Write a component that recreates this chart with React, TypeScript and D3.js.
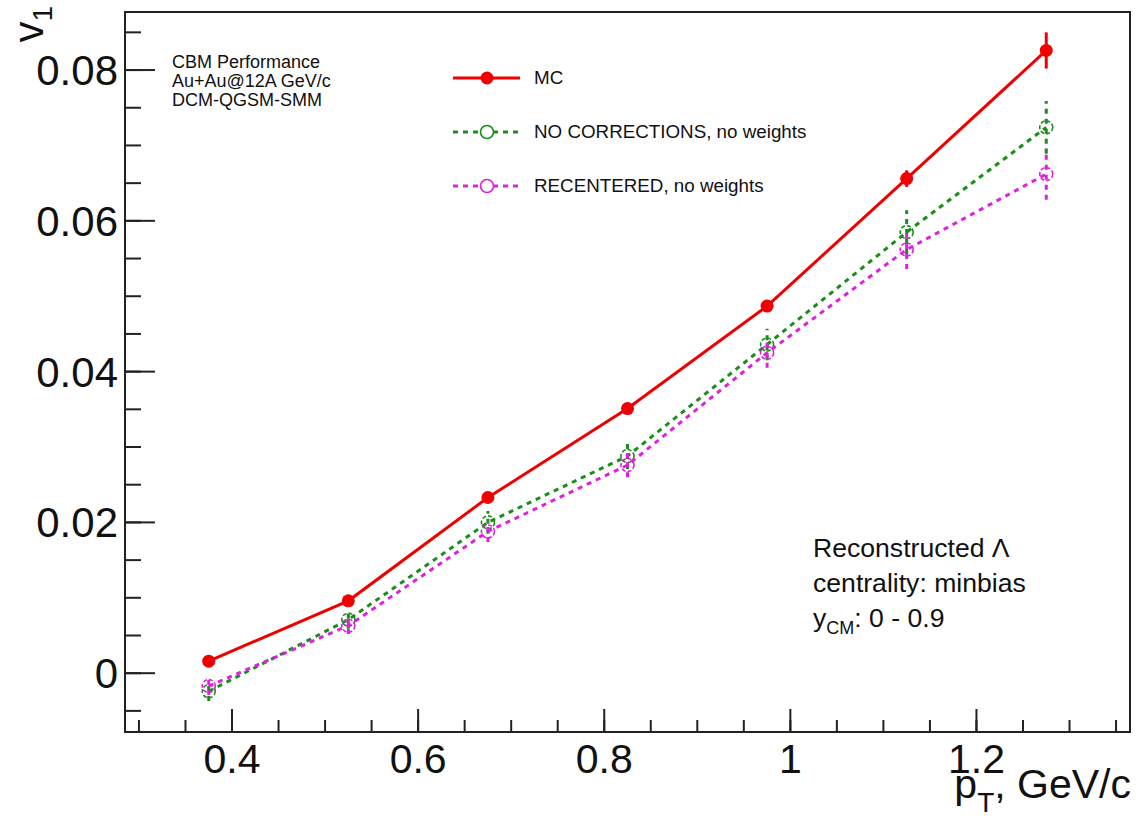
import React from "react";
import * as d3 from "d3";

const ptBins = [0.375, 0.525, 0.675, 0.825, 0.975, 1.125, 1.275];
const mcValues = [0.0016, 0.0096, 0.0233, 0.0351, 0.0487, 0.0656, 0.0826];
const mcErrors = [0.0003, 0.0004, 0.0005, 0.0006, 0.0007, 0.0011, 0.0024];
const noCorrValues = [-0.0024, 0.0071, 0.02, 0.0288, 0.0436, 0.0585, 0.0724];
const noCorrErrors = [0.0013, 0.0012, 0.0015, 0.0017, 0.0021, 0.0029, 0.0035];
const recValues = [-0.0017, 0.0063, 0.0188, 0.0276, 0.0425, 0.0562, 0.0662];
const recErrors = [0.0012, 0.0011, 0.0014, 0.0016, 0.002, 0.0026, 0.0034];

const xMajorTicks = [0.4, 0.6, 0.8, 1.0, 1.2];
const xTickLabels = ["0.4", "0.6", "0.8", "1", "1.2"];
const yMajorTicks = [0, 0.02, 0.04, 0.06, 0.08];
const yTickLabels = ["0", "0.02", "0.04", "0.06", "0.08"];

const legendLabels = ["MC", "NO CORRECTIONS, no weights", "RECENTERED, no weights"];
const infoTopLeft = ["CBM Performance", "Au+Au@12A GeV/c", "DCM-QGSM-SMM"];

const FONT = "'Liberation Sans', Arial, Helvetica, sans-serif";

export default function App() {
  const W = 1136, H = 823;
  const left = 125, right = 1130, top = 12, bottom = 732;
  const x = d3.scaleLinear().domain([0.285, 1.365]).range([left, right]);
  const y = d3.scaleLinear().domain([-0.0078, 0.0877]).range([bottom, top]);

  const xMinor = d3.range(0.3, 1.3501, 0.05).map((v) => +v.toFixed(3));
  const yMinor = d3.range(-0.005, 0.08501, 0.005).map((v) => +v.toFixed(4));

  const line = d3
    .line<[number, number]>()
    .x((d) => x(d[0]))
    .y((d) => y(d[1]));

  const series = [
    { vals: mcValues, errs: mcErrors, color: "#f00000", dash: null as string | null, filled: true },
    { vals: noCorrValues, errs: noCorrErrors, color: "#1c8c1c", dash: "5,5", filled: false },
    { vals: recValues, errs: recErrors, color: "#dd22dd", dash: "5,5", filled: false },
  ];

  const legendRows = [78, 132, 186];

  return (
    <svg
      width={W}
      height={H}
      style={{ position: "absolute", left: 0, top: 0, background: "#fff", fontFamily: FONT }}
    >
      <rect x={0} y={0} width={W} height={H} fill="#fff" />
      {/* data */}
      {series.map((s, si) => {
        const pts: [number, number][] = ptBins.map((p, i) => [p, s.vals[i]]);
        return (
          <g key={si}>
            {ptBins.map((p, i) => (
              <line
                key={"e" + i}
                x1={x(p)}
                x2={x(p)}
                y1={y(s.vals[i] - s.errs[i])}
                y2={y(s.vals[i] + s.errs[i])}
                stroke={s.color}
                strokeWidth={3}
                strokeDasharray={s.dash || undefined}
              />
            ))}
            <path
              d={line(pts) || ""}
              fill="none"
              stroke={s.color}
              strokeWidth={3}
              strokeDasharray={s.dash || undefined}
            />
            {pts.map((d, i) =>
              s.filled ? (
                <circle key={"m" + i} cx={x(d[0])} cy={y(d[1])} r={6.5} fill={s.color} />
              ) : (
                <circle
                  key={"m" + i}
                  cx={x(d[0])}
                  cy={y(d[1])}
                  r={6.5}
                  fill="none"
                  stroke={s.color}
                  strokeWidth={1.6}
                  strokeDasharray="4,2"
                />
              )
            )}
          </g>
        );
      })}

      {/* frame */}
      <rect x={left} y={top} width={right - left} height={bottom - top} fill="none" stroke="#222" strokeWidth={2} />

      {/* x ticks */}
      {xMinor.map((v, i) => (
        <line key={"xm" + i} x1={x(v)} x2={x(v)} y1={bottom} y2={bottom - 12} stroke="#222" strokeWidth={2} />
      ))}
      {xMajorTicks.map((v, i) => (
        <g key={"xM" + i}>
          <line x1={x(v)} x2={x(v)} y1={bottom} y2={bottom - 23} stroke="#222" strokeWidth={2} />
          <text x={x(v)} y={773} textAnchor="middle" fontSize={41} fill="#111">
            {xTickLabels[i]}
          </text>
        </g>
      ))}

      {/* y ticks */}
      {yMinor.map((v, i) => (
        <line key={"ym" + i} x1={left} x2={left + 16} y1={y(v)} y2={y(v)} stroke="#222" strokeWidth={2} />
      ))}
      {yMajorTicks.map((v, i) => (
        <g key={"yM" + i}>
          <line x1={left} x2={left + 30} y1={y(v)} y2={y(v)} stroke="#222" strokeWidth={2} />
          <text x={118} y={y(v) + 15} textAnchor="end" fontSize={42} fill="#111">
            {yTickLabels[i]}
          </text>
        </g>
      ))}

      {/* axis titles */}
      <text transform="translate(43,6) rotate(-90)" textAnchor="end" fontSize={42} fill="#111">
        v<tspan fontSize={28} dy={9}>1</tspan>
      </text>
      <text x={1131} y={798} textAnchor="end" fontSize={41} fill="#111">
        p<tspan fontSize={28} dy={14}>T</tspan>
        <tspan dy={-14}>, GeV/c</tspan>
      </text>

      {/* top-left info */}
      {infoTopLeft.map((t, i) => (
        <text key={"i" + i} x={172} y={68 + i * 19} fontSize={18} fill="#111">
          {t}
        </text>
      ))}

      {/* legend */}
      {series.map((s, i) => (
        <g key={"l" + i}>
          <line
            x1={453}
            x2={520}
            y1={legendRows[i]}
            y2={legendRows[i]}
            stroke={s.color}
            strokeWidth={3}
            strokeDasharray={s.dash || undefined}
          />
          {s.filled ? (
            <circle cx={487} cy={legendRows[i]} r={6.5} fill={s.color} />
          ) : (
            <circle cx={487} cy={legendRows[i]} r={6.5} fill="#fff" stroke={s.color} strokeWidth={1.6} />
          )}
          <text x={534} y={legendRows[i] + 6} fontSize={18.8} fill="#111">
            {legendLabels[i]}
          </text>
        </g>
      ))}

      {/* bottom-right info */}
      <text x={813} y={557} fontSize={26.6} fill="#111">
        Reconstructed Λ
      </text>
      <text x={813} y={592} fontSize={26.6} fill="#111">
        centrality: minbias
      </text>
      <text x={813} y={627} fontSize={26.6} fill="#111">
        y<tspan fontSize={18} dy={7}>CM</tspan>
        <tspan dy={-7}>: 0 - 0.9</tspan>
      </text>
    </svg>
  );
}
